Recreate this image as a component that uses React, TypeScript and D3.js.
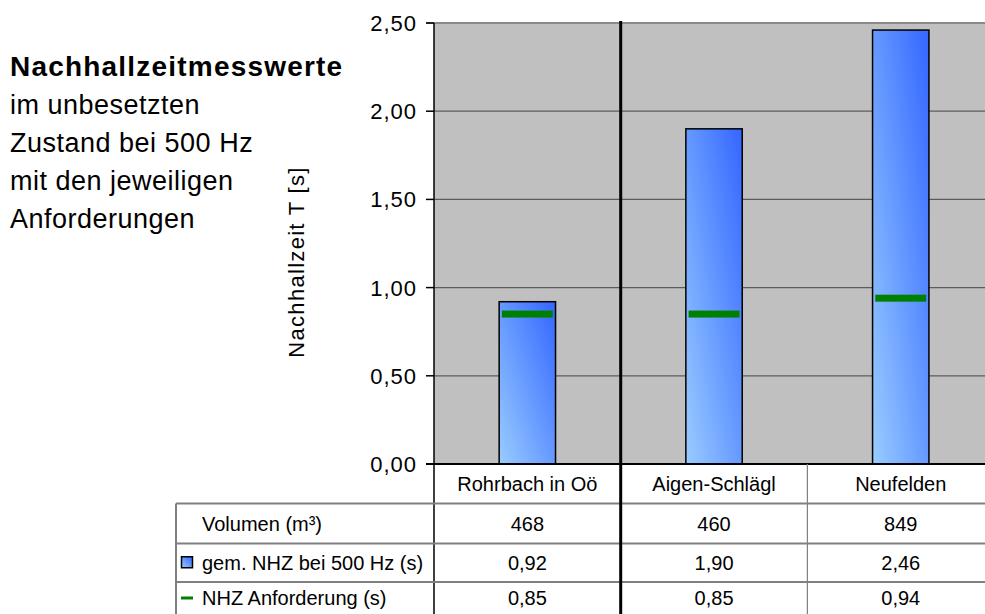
import React from "react";
import * as d3 from "d3";

const categories = ["Rohrbach in Oö", "Aigen-Schlägl", "Neufelden"];
const volumen = [468, 460, 849];
const measured = [0.92, 1.9, 2.46];
const required = [0.85, 0.85, 0.94];
const yTicks = [0, 0.5, 1, 1.5, 2, 2.5];
const rowLabels = ["Volumen (m³)", "gem. NHZ bei 500 Hz (s)", "NHZ Anforderung (s)"];
const titleBold = "Nachhallzeitmesswerte";
const titleLines = ["im unbesetzten", "Zustand bei 500 Hz", "mit den jeweiligen", "Anforderungen"];
const yTitle = "Nachhallzeit T [s]";

const W = 985;
const H = 614;
const plotLeft = 434;
const plotTop = 23;
const plotBottom = 464;
const step = 186.7;
const rowEdges = [464, 503.5, 543.5, 582, 614];
const tableLeft = 176;
const FONT = "Arial, 'Liberation Sans', sans-serif";

const fmt2 = (v: number) => d3.format(".2f")(v).replace(".", ",");

export default function App() {
  const x = d3
    .scaleBand<string>()
    .domain(categories)
    .range([plotLeft, plotLeft + step * categories.length])
    .paddingInner(0)
    .paddingOuter(0);
  const y = d3.scaleLinear().domain([0, 2.5]).range([plotBottom, plotTop]);
  const bw = x.bandwidth();
  const barW = bw * 0.302;
  const markW = bw * 0.273;
  const plotRight = plotLeft + step * categories.length;

  const rows = [
    volumen.map((v) => String(v)),
    measured.map(fmt2),
    required.map(fmt2),
  ];

  return (
    <svg
      width={W}
      height={H}
      style={{ position: "absolute", left: 0, top: 0, background: "#fff" }}
      fontFamily={FONT}
    >
      <defs>
        <linearGradient id="barGrad" x1="0" y1="1" x2="1" y2="0">
          <stop offset="0" stopColor="#99ccff" />
          <stop offset="1" stopColor="#3366ff" />
        </linearGradient>
      </defs>

      {/* plot background */}
      <rect x={plotLeft} y={plotTop} width={plotRight - plotLeft} height={plotBottom - plotTop} fill="#c0c0c0" />

      {/* gridlines */}
      {yTicks
        .filter((t) => t > 0 && t < 2.5)
        .map((t) => (
          <line key={"g" + t} x1={plotLeft} x2={plotRight} y1={y(t)} y2={y(t)} stroke="#5c5c5c" strokeWidth={1.2} />
        ))}
      <line x1={plotLeft - 8} x2={plotRight} y1={y(2.5)} y2={y(2.5)} stroke="#8a8a8a" strokeWidth={2} />

      {/* bars */}
      {categories.map((c, i) => (
        <rect
          key={"b" + c}
          x={(x(c) as number) + bw / 2 - barW / 2}
          y={y(measured[i])}
          width={barW}
          height={y(0) - y(measured[i])}
          fill="url(#barGrad)"
          stroke="#000"
          strokeWidth={1.5}
        />
      ))}

      {/* requirement markers */}
      {categories.map((c, i) => (
        <rect
          key={"m" + c}
          x={(x(c) as number) + bw / 2 - markW / 2}
          y={y(required[i]) - 3.5}
          width={markW}
          height={7}
          fill="#008000"
        />
      ))}

      {/* y axis */}
      <line x1={plotLeft} x2={plotLeft} y1={plotTop} y2={H} stroke="#000" strokeWidth={1.5} />
      {yTicks.map((t) => (
        <g key={"t" + t}>
          <line x1={plotLeft - 8} x2={plotLeft} y1={y(t)} y2={y(t)} stroke="#000" strokeWidth={1.5} />
          <text
            x={417}
            y={y(t)}
            dy="0.36em"
            textAnchor="end"
            fontSize={22}
            letterSpacing={1}
            fill="#000"
          >
            {fmt2(t)}
          </text>
        </g>
      ))}
      <line x1={plotLeft - 8} x2={W} y1={plotBottom} y2={plotBottom} stroke="#000" strokeWidth={2} />

      <text
        transform={`translate(304, 262) rotate(-90)`}
        textAnchor="middle"
        fontSize={22}
        letterSpacing={1.3}
        fill="#000"
      >
        {yTitle}
      </text>

      {/* table lines */}
      {rowEdges.slice(1, 4).map((e) => (
        <line key={"r" + e} x1={tableLeft} x2={W} y1={e} y2={e} stroke="#808080" strokeWidth={2} />
      ))}
      <line x1={tableLeft} x2={tableLeft} y1={rowEdges[1]} y2={H} stroke="#808080" strokeWidth={2} />
      <line
        x1={x(categories[2]) as number}
        x2={x(categories[2]) as number}
        y1={plotBottom}
        y2={H}
        stroke="#808080"
        strokeWidth={1.2}
      />
      <line
        x1={x(categories[1]) as number}
        x2={x(categories[1]) as number}
        y1={plotTop - 2}
        y2={H}
        stroke="#000"
        strokeWidth={3}
      />

      {/* category labels */}
      {categories.map((c) => (
        <text
          key={"c" + c}
          x={(x(c) as number) + bw / 2}
          y={(rowEdges[0] + rowEdges[1]) / 2}
          dy="0.36em"
          textAnchor="middle"
          fontSize={20}
          fill="#000"
        >
          {c}
        </text>
      ))}

      {/* table rows */}
      {rows.map((vals, r) => {
        const cy = (rowEdges[r + 1] + rowEdges[r + 2]) / 2;
        return (
          <g key={"row" + r}>
            <text x={202} y={cy} dy="0.36em" fontSize={20} fill="#000">
              {rowLabels[r]}
            </text>
            {vals.map((v, i) => (
              <text
                key={"v" + i}
                x={(x(categories[i]) as number) + bw / 2}
                y={cy}
                dy="0.36em"
                textAnchor="middle"
                fontSize={20}
                fill="#000"
              >
                {v}
              </text>
            ))}
          </g>
        );
      })}

      {/* legend keys */}
      <rect
        x={181.5}
        y={(rowEdges[2] + rowEdges[3]) / 2 - 6}
        width={11}
        height={11}
        fill="url(#barGrad)"
        stroke="#000"
        strokeWidth={1.5}
      />
      <line
        x1={181}
        x2={193}
        y1={(rowEdges[3] + rowEdges[4]) / 2}
        y2={(rowEdges[3] + rowEdges[4]) / 2}
        stroke="#008000"
        strokeWidth={3}
      />

      {/* title */}
      <text x={10} y={76} fontSize={28} fontWeight="bold" letterSpacing={1.2} fill="#000">
        {titleBold}
      </text>
      {titleLines.map((l, i) => (
        <text key={"tl" + i} x={10} y={114 + i * 38} fontSize={27} letterSpacing={0.5} fill="#000">
          {l}
        </text>
      ))}
    </svg>
  );
}
